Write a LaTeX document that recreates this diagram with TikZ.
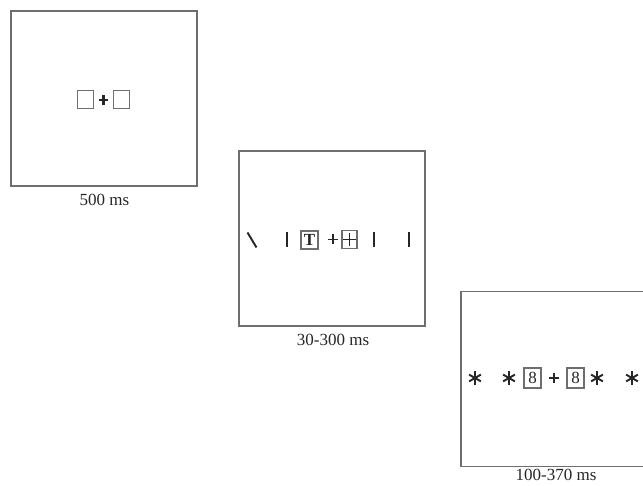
\documentclass[tikz,border=0pt]{standalone}
\usepackage{fontspec}
\setmainfont{Liberation Serif}
\definecolor{framegray}{HTML}{6E6E6E}
\definecolor{inkblack}{HTML}{262626}
\begin{document}
\begin{tikzpicture}[x=1pt,y=-1pt,
  screen/.style={draw=framegray, line width=1.6pt, minimum width=186pt, minimum height=175pt, inner sep=0pt, outer sep=0pt},
  cell/.style={draw=framegray, line width=1.2pt, inner sep=0pt, minimum width=#1, minimum height=18pt, text=inkblack, font=\fontsize{17}{17}\selectfont},
  cell/.default=16pt,
  caption/.style={anchor=base, inner sep=0pt, text=inkblack, font=\fontsize{17}{20}\selectfont},
  bar/.style={draw=inkblack, line width=1.9pt},
  spoke/.style={draw=inkblack, line width=1.9pt},
  cross/.style={draw=inkblack, line width=1.7pt}
]
% page area
\useasboundingbox (0,0) rectangle (643,486);
\clip (0,0) rectangle (643,486);

% asterisk made of three crossing strokes
\newcommand{\starmark}[1]{%
  \foreach \ang in {90,30,150}{
    \draw[spoke] (#1) ++(\ang:6.8) -- ++(\ang+180:13.6);
  }%
}
% plus sign drawn as two strokes, arm length #2
\newcommand{\plusmark}[3][]{%
  \draw[cross,#1] (#2) ++(-#3,0) -- ++(2*#3,0) (#2) ++(0,-#3) -- ++(0,2*#3);%
}

% ---- screen 1: fixation with placeholders ----
\node[screen] (s1) at (104,98.5) {};
\node[cell] (s1l) at (85.5,99.5) {};
\coordinate (s1p) at (103.5,100);
\plusmark[line width=2.1pt]{s1p}{4.6}
\node[cell] (s1r) at (121.5,99.5) {};
\node[caption] (c1) at (104.5,206) {500 ms};

% ---- screen 2: target display ----
\node[screen] (s2) at (331.7,238.5) {};
\draw[bar] (247.5,232.5) -- (256.5,247.5);
\draw[bar] (286.7,232) -- (286.7,247);
\node[cell=17pt] (s2t) at (309.5,240) {\textbf{T}};
\coordinate (s2p) at (333,239.5);
\plusmark{s2p}{5}
\node[cell=15pt] (s2c) at (349.5,239.5) {};
\plusmark{s2c.center}{6.5}
\draw[bar] (374,232) -- (374,247.5);
\draw[bar] (409,232) -- (409,247.5);
\node[caption] (c2) at (333,346) {30-300 ms};

% ---- screen 3: mask display ----
\node[screen] (s3) at (554,379) {};
\coordinate (a1) at (475,378);
\coordinate (a2) at (509,378);
\coordinate (a3) at (597,378);
\coordinate (a4) at (632,378);
\starmark{a1}
\starmark{a2}
\starmark{a3}
\starmark{a4}
\node[cell=17pt, minimum height=20pt] (s3l) at (532.5,378) {8};
\coordinate (s3p) at (554,378);
\plusmark{s3p}{5}
\node[cell=17pt, minimum height=20pt] (s3r) at (575.5,378) {8};
\node[caption] (c3) at (556,480) {100-370 ms};
\end{tikzpicture}
\end{document}
